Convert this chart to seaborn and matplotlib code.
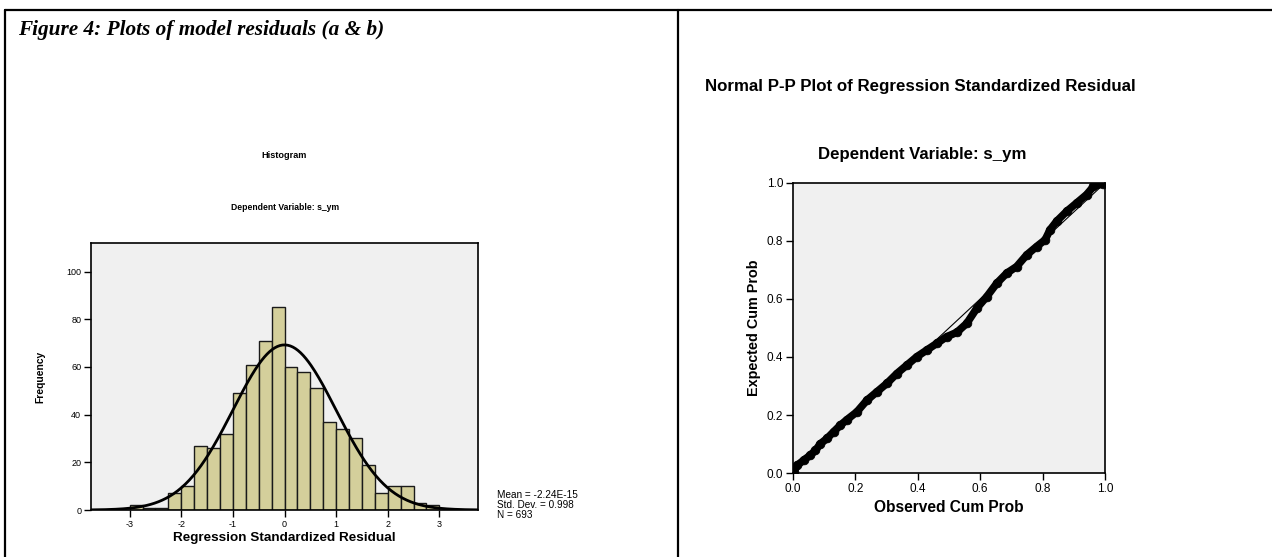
import numpy as np
import pandas as pd
import matplotlib
matplotlib.use("Agg")
import matplotlib.pyplot as plt
import seaborn as sns

# ---- data ----
bin_edges = [-3.0, -2.75, -2.5, -2.25, -2.0, -1.75, -1.5, -1.25, -1.0, -0.75, -0.5, -0.25,
             0.0, 0.25, 0.5, 0.75, 1.0, 1.25, 1.5, 1.75, 2.0, 2.25, 2.5, 2.75, 3.0]
freq = [2, 1, 1, 7, 10, 27, 26, 32, 49, 61, 71, 85,
        60, 58, 51, 37, 34, 30, 19, 7, 10, 10, 3, 2]
res_mean = -2.24e-15
res_sd = 0.998
res_n = 693
hist_xticks = [-3, -2, -1, 0, 1, 2, 3]
hist_yticks = [0, 20, 40, 60, 80, 100]

obs_cum = [0.002, 0.013, 0.034, 0.055, 0.072, 0.088, 0.109, 0.130, 0.152, 0.173,
           0.205, 0.237, 0.269, 0.301, 0.333, 0.365, 0.397, 0.429, 0.461, 0.493,
           0.525, 0.557, 0.589, 0.621, 0.653, 0.685, 0.717, 0.749, 0.781, 0.808,
           0.824, 0.845, 0.877, 0.909, 0.941, 0.963, 0.995]
exp_cum = [0.003, 0.026, 0.044, 0.061, 0.078, 0.101, 0.119, 0.142, 0.165, 0.184,
           0.211, 0.251, 0.280, 0.309, 0.343, 0.372, 0.401, 0.424, 0.447, 0.470,
           0.485, 0.516, 0.568, 0.608, 0.654, 0.689, 0.712, 0.752, 0.781, 0.804,
           0.839, 0.868, 0.902, 0.931, 0.960, 0.988, 0.998]
pp_ticks = [0.0, 0.2, 0.4, 0.6, 0.8, 1.0]

sns.set_theme(style="white")
plt.rcParams['font.family'] = ['Liberation Sans', 'DejaVu Sans']
plt.rcParams['text.color'] = 'black'
plt.rcParams['axes.labelcolor'] = 'black'
plt.rcParams['xtick.color'] = 'black'
plt.rcParams['ytick.color'] = 'black'

W, H = 1272, 557
fig = plt.figure(figsize=(W / 100, H / 100), dpi=100)
fig.patch.set_facecolor("white")

def fx(px):
    return px / W

def fy(py):
    return 1 - py / H

# frame lines
fig.add_artist(plt.Line2D([fx(5), fx(1272)], [fy(10), fy(10)], color="black", lw=1.6))
fig.add_artist(plt.Line2D([fx(5), fx(5)], [fy(10), fy(557)], color="black", lw=1.6))
fig.add_artist(plt.Line2D([fx(678), fx(678)], [fy(10), fy(557)], color="black", lw=1.6))

fig.text(fx(18), fy(30), "Figure 4: Plots of model residuals (a & b)",
         family="Liberation Serif", fontweight="bold", fontstyle="italic",
         fontsize=15.3, ha="left", va="center")

# ---- histogram ----
ax1 = fig.add_axes([fx(91), fy(510), fx(478 - 91), (510 - 243) / H])
ax1.set_facecolor("#F0F0F0")
centers = [(bin_edges[i] + bin_edges[i + 1]) / 2 for i in range(len(freq))]
df = pd.DataFrame({"x": centers, "w": freq})
sns.histplot(data=df, x="x", weights="w", bins=bin_edges, ax=ax1,
             color="#D4CF9B", alpha=1, edgecolor="#1a1a1a", linewidth=1.0)
xs = np.linspace(-3.75, 3.75, 300)
bw = bin_edges[1] - bin_edges[0]
curve = res_n * bw / (res_sd * np.sqrt(2 * np.pi)) * np.exp(-0.5 * ((xs - res_mean) / res_sd) ** 2)
sns.lineplot(x=xs, y=curve, ax=ax1, color="black", lw=2.0)
ax1.set_xlim(-3.75, 3.75)
ax1.set_ylim(0, 112)
ax1.set_xticks(hist_xticks)
ax1.set_xticklabels([str(t) for t in hist_xticks])
ax1.set_yticks(hist_yticks)
ax1.set_xlabel("Regression Standardized Residual", fontsize=9.7, fontweight="bold", labelpad=2)
ax1.set_ylabel("Frequency", fontsize=7.4, fontweight="bold", labelpad=15)
ax1.tick_params(axis="both", direction="out", length=5, width=1, labelsize=6.5,
                bottom=True, left=True, pad=2, colors="black")
for s in ax1.spines.values():
    s.set_color("black")
    s.set_linewidth(1.2)

fig.text(fx(284), fy(156), "Histogram", fontsize=6.6, fontweight="bold", ha="center", va="center")
fig.text(fx(285), fy(208), "Dependent Variable: s_ym", fontsize=6.2, fontweight="bold",
         ha="center", va="center")
fig.text(fx(497), fy(505), "Mean = -2.24E-15\nStd. Dev. = 0.998\nN = 693",
         fontsize=7.2, ha="left", va="center", linespacing=1.0)

# ---- P-P plot ----
ax2 = fig.add_axes([fx(793), fy(473), fx(1105 - 793), (473 - 183) / H])
ax2.set_facecolor("#F0F0F0")
sns.lineplot(x=[0, 1], y=[0, 1], ax=ax2, color="black", lw=0.8)
sns.lineplot(x=obs_cum, y=exp_cum, ax=ax2, color="black", lw=5.5, sort=False)
sns.scatterplot(x=obs_cum, y=exp_cum, ax=ax2, color="black", s=40, edgecolor="black")
ax2.set_xlim(0, 1)
ax2.set_ylim(0, 1)
ax2.set_xticks(pp_ticks)
ax2.set_yticks(pp_ticks)
ax2.set_xticklabels([f"{t:.1f}" for t in pp_ticks])
ax2.set_yticklabels([f"{t:.1f}" for t in pp_ticks])
ax2.set_xlabel("Observed Cum Prob", fontsize=11.2, fontweight="bold", labelpad=4)
ax2.set_ylabel("Expected Cum Prob", fontsize=10.4, fontweight="bold", labelpad=4)
ax2.tick_params(axis="both", direction="out", length=5, width=1, labelsize=8.5,
                bottom=True, left=True, pad=2, colors="black")
for s in ax2.spines.values():
    s.set_color("black")
    s.set_linewidth(1.2)

fig.text(fx(705), fy(87), "Normal P-P Plot of Regression Standardized Residual",
         fontsize=12.2, fontweight="bold", ha="left", va="center")
fig.text(fx(922), fy(155), "Dependent Variable: s_ym", fontsize=12.1, fontweight="bold",
         ha="center", va="center")

fig.savefig("out.png", dpi=100, facecolor="white")
